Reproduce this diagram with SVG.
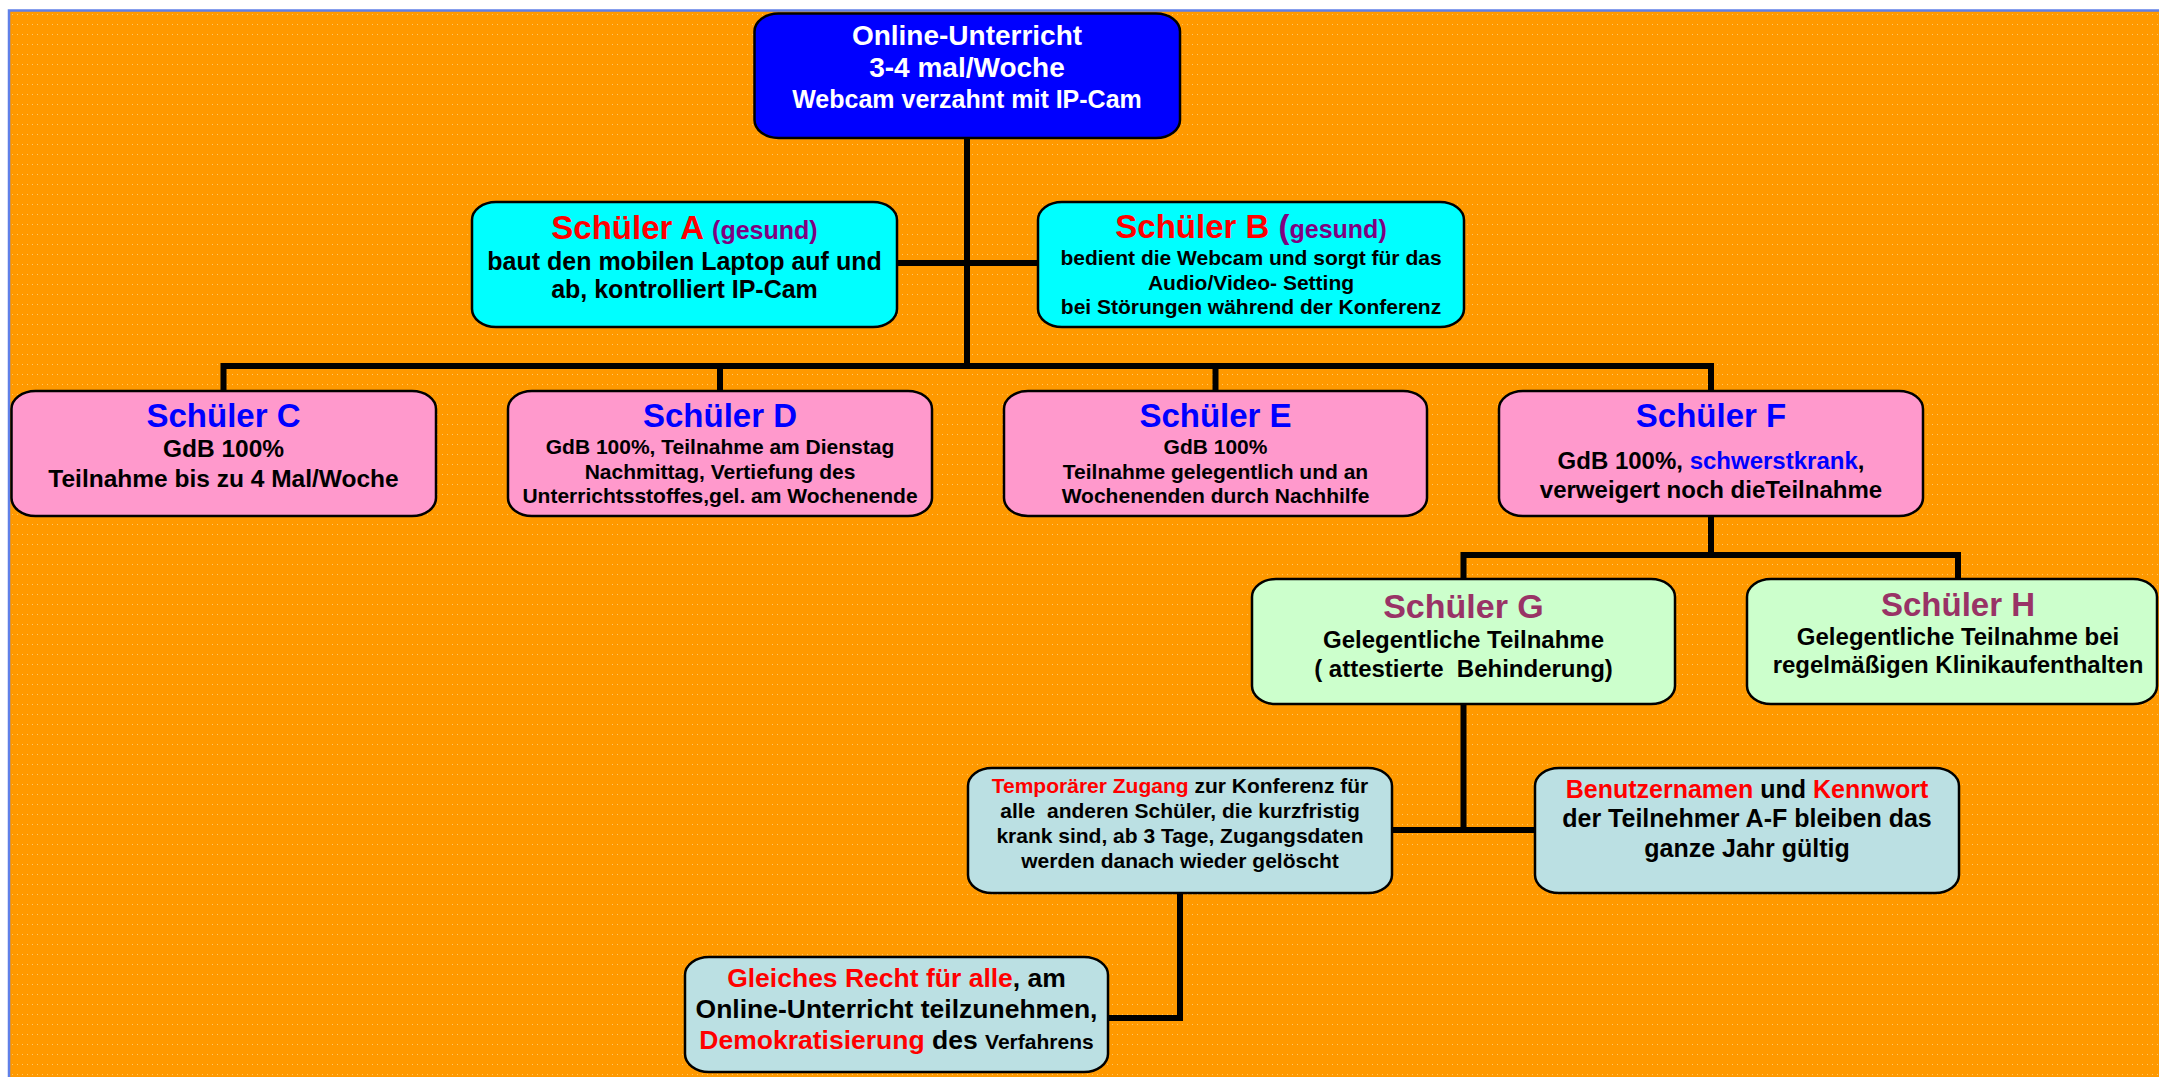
<svg xmlns="http://www.w3.org/2000/svg" width="2159" height="1077" viewBox="0 0 2159 1077">
<style>
text{font-family:"Liberation Sans",Arial,sans-serif;font-weight:bold;text-anchor:middle;fill:#000}
.pre{white-space:pre}
.box{stroke:#000;stroke-width:2.5}
.blue{fill:#0000FF}.cyan{fill:#00FFFF}.pink{fill:#FF99CC}.green{fill:#CCFFCC}.grey{fill:#BBE0E3}
.conn{fill:none;stroke:#000;stroke-width:6;stroke-linejoin:miter;stroke-linecap:square}
.t33{font-size:33px}.t25{font-size:25px}.t24{font-size:24px}.t21{font-size:21px}
.red{fill:#FF0000}.pur{fill:#800080}.bt{fill:#0000FF}.mar{fill:#993366}.wh{fill:#FFFFFF}
</style>
<defs>
<pattern id="dots" width="5" height="10" patternUnits="userSpaceOnUse">
<rect x="2" y="4" width="1" height="1" fill="#FFC866"/>
</pattern>
</defs>
<rect x="0" y="0" width="2159" height="1077" fill="#FFFFFF"/>
<rect x="10" y="11" width="2149" height="1066" fill="#FF9900"/>
<rect x="10" y="11" width="2149" height="1066" fill="url(#dots)"/>
<path d="M9 1077 V10.5 H2159" fill="none" stroke="#6080E8" stroke-width="2.5"/>

<g id="connectors">
<path class="conn" d="M967 138 V366"/>
<path class="conn" d="M897 263 H1038"/>
<path class="conn" d="M223.5 391 V366 H1711 V391"/>
<path class="conn" d="M720 366 V391"/>
<path class="conn" d="M1215.5 366 V391"/>
<path class="conn" d="M1711 516 V555"/>
<path class="conn" d="M1463.5 579 V555 H1958 V579"/>
<path class="conn" d="M1463.5 704 V830"/>
<path class="conn" d="M1392 830 H1535"/>
<path class="conn" d="M1180 893 V1018 H1108"/>
</g>

<g id="node-top">
<rect class="box blue" x="754.5" y="13.5" width="425.5" height="124.5" rx="24" ry="18"/>
<text class="wh" x="967" y="45" style="font-size:28px">Online-Unterricht</text>
<text class="wh" x="967" y="77" style="font-size:28px">3-4 mal/Woche</text>
<text class="wh" x="967" y="108" style="font-size:25px">Webcam verzahnt mit IP-Cam</text>
</g>

<g id="node-a">
<rect class="box cyan" x="472" y="202" width="425" height="125" rx="24" ry="18"/>
<text x="684.5" y="239"><tspan class="red t33">Schüler A </tspan><tspan class="pur t25">(gesund)</tspan></text>
<text class="t25" x="684.5" y="270">baut den mobilen Laptop auf und</text>
<text class="t25" x="684.5" y="298">ab, kontrolliert IP-Cam</text>
</g>

<g id="node-b">
<rect class="box cyan" x="1038" y="202" width="426" height="125" rx="24" ry="18"/>
<text x="1251" y="238"><tspan class="red t33">Schüler B </tspan><tspan class="pur t33">(</tspan><tspan class="pur t25">gesund)</tspan></text>
<text class="t21" x="1251" y="265">bedient die Webcam und sorgt für das</text>
<text class="t21" x="1251" y="290">Audio/Video- Setting</text>
<text class="t21" x="1251" y="314">bei Störungen während der Konferenz</text>
</g>

<g id="node-c">
<rect class="box pink" x="11.5" y="391" width="424.5" height="125" rx="24" ry="18"/>
<text class="bt t33" x="223.5" y="427">Schüler C</text>
<text x="223.5" y="457" style="font-size:24.5px">GdB 100%</text>
<text x="223.5" y="487" style="font-size:24.5px">Teilnahme bis zu 4 Mal/Woche</text>
</g>

<g id="node-d">
<rect class="box pink" x="508" y="391" width="424" height="125" rx="24" ry="18"/>
<text class="bt t33" x="720" y="427">Schüler D</text>
<text class="t21" x="720" y="454">GdB 100%, Teilnahme am Dienstag</text>
<text class="t21" x="720" y="479">Nachmittag, Vertiefung des</text>
<text class="t21" x="720" y="503">Unterrichtsstoffes,gel. am Wochenende</text>
</g>

<g id="node-e">
<rect class="box pink" x="1004" y="391" width="423" height="125" rx="24" ry="18"/>
<text class="bt t33" x="1215.5" y="427">Schüler E</text>
<text class="t21" x="1215.5" y="454">GdB 100%</text>
<text class="t21" x="1215.5" y="479">Teilnahme gelegentlich und an</text>
<text class="t21" x="1215.5" y="503">Wochenenden durch Nachhilfe</text>
</g>

<g id="node-f">
<rect class="box pink" x="1499" y="391" width="424" height="125" rx="24" ry="18"/>
<text class="bt t33" x="1711" y="427">Schüler F</text>
<text class="t24" x="1711" y="469">GdB 100%, <tspan class="bt">schwerstkrank</tspan>,</text>
<text class="t24" x="1711" y="498">verweigert noch dieTeilnahme</text>
</g>

<g id="node-g">
<rect class="box green" x="1252" y="579" width="423" height="125" rx="24" ry="18"/>
<text class="mar" x="1463.5" y="618" style="font-size:34px">Schüler G</text>
<text class="t24" x="1463.5" y="648">Gelegentliche Teilnahme</text>
<text class="t24 pre" x="1463.5" y="677">( attestierte  Behinderung)</text>
</g>

<g id="node-h">
<rect class="box green" x="1747" y="579" width="410" height="125" rx="24" ry="18"/>
<text class="mar t33" x="1958" y="616">Schüler H</text>
<text class="t24" x="1958" y="645">Gelegentliche Teilnahme bei</text>
<text class="t24" x="1958" y="673">regelmäßigen Klinikaufenthalten</text>
</g>

<g id="node-temp">
<rect class="box grey" x="968" y="768" width="424" height="125" rx="24" ry="18"/>
<text class="t21" x="1180" y="793"><tspan class="red">Temporärer Zugang</tspan> zur Konferenz für</text>
<text class="t21 pre" x="1180" y="818">alle  anderen Schüler, die kurzfristig</text>
<text class="t21" x="1180" y="843">krank sind, ab 3 Tage, Zugangsdaten</text>
<text class="t21" x="1180" y="868">werden danach wieder gelöscht</text>
</g>

<g id="node-benutzer">
<rect class="box grey" x="1535" y="768" width="424" height="125" rx="24" ry="18"/>
<text class="t25" x="1747" y="798"><tspan class="red">Benutzernamen</tspan> und <tspan class="red">Kennwort</tspan></text>
<text class="t25" x="1747" y="827">der Teilnehmer A-F bleiben das</text>
<text class="t25" x="1747" y="857">ganze Jahr gültig</text>
</g>

<g id="node-gleiches">
<rect class="box grey" x="685" y="957" width="423" height="115" rx="24" ry="18"/>
<text x="896.5" y="987" style="font-size:26.5px"><tspan class="red">Gleiches Recht für alle</tspan>, am</text>
<text x="896.5" y="1018" style="font-size:26.5px">Online-Unterricht teilzunehmen,</text>
<text x="896.5" y="1049" style="font-size:26.5px"><tspan class="red">Demokratisierung</tspan> des <tspan style="font-size:21px">Verfahrens</tspan></text>
</g>
</svg>
